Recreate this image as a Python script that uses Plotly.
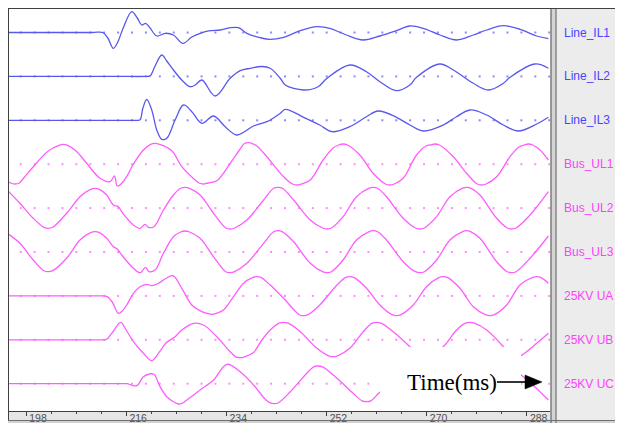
import plotly.graph_objects as go

# ---------------- data: time in ms, deviation from each channel's baseline ----------------
channel_names = ["Line_IL1", "Line_IL2", "Line_IL3", "Bus_UL1", "Bus_UL2", "Bus_UL3",
                 "25KV UA", "25KV UB", "25KV UC"]
tick_values = [198, 216, 234, 252, 270, 288]
tick_labels = ["198", "216", "234", "252", "270", "288"]

il1_t = [194.8, 200.0, 205.0, 210.0, 211.8, 212.7, 213.7, 214.5, 215.4, 217.0, 218.0, 218.8, 219.5, 220.3,
         221.5, 223.0, 224.5, 226.2, 227.8, 229.3, 231.1, 232.9, 234.7, 236.2, 237.7, 240.1, 241.9, 244.3,
         247.3, 250.3, 252.6, 255.6, 258.6, 261.6, 264.6, 267.0, 269.4, 272.4, 275.4, 278.4, 280.8, 283.8,
         286.8, 289.8, 291.9]
il1_v = [0, 0, 0, 0, 0, -5.5, -15.8, -9.5, 3.5, 20.8, 14.5, 7.5, 9.2, 4.5,
         -3.5, -0.8, -2.5, -10.8, -4.5, -0.8, 1.8, 2.5, 4.8, 4.8, -0.8, -5.2, -6.8, -4.8,
         1.8, 5.8, 4.2, -2.5, -7.5, -3.5, 1.8, 6.5, 4.2, -2.5, -7.5, -2.5, 2.5, 6.8,
         3.2, -3.5, -6.2]

il2_t = [194.8, 200.0, 205.0, 210.0, 215.0, 219.5, 220.3, 221.2, 222.4, 223.3, 224.5, 226.0, 227.5, 228.4,
         229.6, 232.0, 234.7, 236.5, 238.3, 240.4, 241.9, 243.7, 244.6, 247.9, 250.5, 252.1, 256.2, 259.2,
         261.6, 264.6, 267.0, 268.2, 272.4, 274.8, 278.4, 281.1, 283.8, 285.0, 289.5, 291.9]
il2_v = [0, 0, 0, 0, 0, 0, 0.5, 10.4, 21.4, 15.4, 6.4, -3.6, -10.3, -8.6,
         -3.6, -19.6, -1.9, 5.7, 8.1, 9.9, 8.1, -1.9, -8.6, -13.6, -10.3, -1.9, 11.4, 4.7,
         -5.3, -14.3, -8.6, -0.9, 12.4, 6.4, -6.9, -13.6, -6.9, -0.9, 12.4, 8.1]

il3_t = [194.8, 200.0, 205.0, 210.0, 215.0, 217.8, 218.5, 219.0, 219.7, 220.6, 221.5, 222.4, 223.3, 224.8,
         226.3, 227.8, 229.6, 231.7, 233.8, 235.9, 238.9, 241.3, 243.7, 244.6, 247.9, 250.8, 253.0, 256.2,
         259.2, 261.3, 264.6, 267.0, 269.4, 273.0, 275.4, 277.8, 280.8, 283.8, 286.5, 289.8, 291.9]
il3_v = [0, 0, 0, 0, 0, 0, 0.5, 12, 21, 10.3, -9.7, -19, -18, 0.3,
         15.3, 8.6, -3, 4.3, -6.4, -14.7, -5.7, -1.4, 7, 11, 3, -4.7, -11.4, -6.4,
         3.6, 9.3, 3, -4.7, -10.7, -4.7, 3.6, 10.3, 5.3, -4.7, -10.7, -3.7, 3]

ul1_t = [194.6, 195.2, 196.0, 196.8, 197.6, 199.3, 202.0, 203.9, 204.7, 205.5, 207.0, 208.9, 211.3, 213.1,
         213.9, 214.4, 215.2, 216.1, 217.2, 219.1, 220.4, 221.2, 222.0, 224.2, 226.0, 228.4, 229.1, 229.9,
         230.7, 232.3, 234.7, 236.5, 237.2, 238.0, 238.8, 239.7, 241.3, 244.3, 245.9, 246.7, 247.5, 249.1,
         251.4, 253.2, 254.2, 255.0, 255.8, 258.0, 260.4, 262.6, 263.4, 264.2, 265.8, 268.2, 269.9, 270.7,
         271.5, 272.3, 274.8, 277.2, 279.1, 279.9, 280.7, 282.6, 285.0, 286.6, 287.5, 288.3, 289.1, 290.4,
         291.9]
ul1_v = [-16.5, -18.8, -19.8, -18.8, -13.8, -2.5, 13.2, 18.9, 19.9, 18.9, 13.2, 0.9, -14.1, -17.5,
         -11.8, -21.8, -19.1, -12.5, -0.8, 14.2, 19.9, 20.9, 19.9, 13.5, -2.5, -15.8, -18.8, -19.8,
         -18.8, -16.5, 0.9, 15.2, 20.4, 21.5, 20.4, 17.2, 7.5, -12.5, -19.8, -20.8, -19.8, -15.8,
         4.2, 16.2, 19.2, 20.2, 19.2, 9.2, -9.1, -19.8, -20.8, -19.8, -14.1, 9.2, 18.2, 19.2,
         20.2, 19.2, 7.5, -9.1, -19.8, -20.8, -19.8, -12.5, 7.5, 17.2, 19.2, 20.2, 19.2, 14.2,
         4.2]

ul2_t = [194.6, 196.9, 199.3, 201.2, 202.0, 202.8, 205.3, 207.7, 209.6, 210.4, 211.2, 212.5, 213.7, 214.6,
         215.2, 217.3, 218.5, 219.4, 220.0, 221.0, 222.7, 224.5, 225.8, 226.6, 227.4, 229.3, 231.7, 233.9,
         234.7, 235.5, 237.7, 240.7, 242.5, 243.3, 244.1, 246.1, 249.1, 251.3, 252.1, 252.9, 255.0, 257.4,
         259.6, 260.4, 261.2, 262.8, 265.8, 268.0, 268.8, 269.6, 271.8, 274.2, 276.4, 277.2, 278.0, 279.6,
         282.6, 284.5, 285.3, 286.1, 288.6, 291.9]
ul2_v = [18.1, 4.8, -10.2, -19.2, -20.2, -19.2, -5.2, 11.4, 18.8, 19.8, 18.8, 13.1, 3.1, 1.4,
         -3.6, -16.9, -20.2, -16.2, -19.2, -18.6, -1.9, 13.1, 19.8, 20.8, 19.8, 13.1, -5.2, -19.9,
         -20.9, -19.9, -11.9, 8.1, 19.8, 20.8, 19.8, 8.1, -11.9, -19.9, -20.9, -19.9, -8.6, 11.4,
         19.8, 20.8, 19.8, 11.4, -10.2, -19.9, -20.9, -19.9, -8.6, 11.4, 19.8, 20.8, 19.8, 13.1,
         -10.2, -19.9, -20.9, -19.9, -6.9, 16.4]

ul3_t = [194.6, 196.9, 199.3, 201.2, 202.0, 202.8, 205.3, 207.7, 209.6, 210.4, 211.2, 212.5, 213.7, 214.4,
         215.2, 217.3, 218.5, 219.5, 220.1, 221.2, 222.7, 224.5, 225.8, 226.6, 227.4, 229.3, 231.7, 233.9,
         234.7, 235.5, 237.7, 240.7, 242.5, 243.3, 244.1, 246.1, 249.1, 251.3, 252.1, 252.9, 255.0, 257.4,
         259.6, 260.4, 261.2, 262.8, 265.8, 268.0, 268.8, 269.6, 271.8, 274.2, 276.4, 277.2, 278.0, 279.6,
         282.6, 284.5, 285.3, 286.1, 288.6, 291.9]
ul3_v = [18.7, 8.7, -8, -18.7, -19.7, -18.7, -6.3, 12, 19.3, 20.3, 19.3, 13.7, 5.3, 3,
         -3, -16.3, -20.7, -15.3, -19.7, -18, -1.3, 15.3, 20.0, 21, 20.0, 13.7, -4.7, -19.7,
         -20.7, -19.7, -11.3, 8.7, 20.2, 21.3, 20.2, 10.3, -11.3, -19.7, -20.7, -19.7, -8, 12,
         20.2, 21.3, 20.2, 12, -9.7, -19.7, -20.7, -19.7, -8, 12, 20.2, 21.3, 20.2, 13.7,
         -9.7, -19.7, -20.7, -19.7, -6.3, 16]

ua_t = [194.8, 200.0, 205.0, 210.0, 211.8, 212.5, 213.5, 214.6, 215.3, 216.1, 217.3, 218.5, 219.7, 220.6,
        221.8, 223.0, 224.4, 226.0, 227.8, 229.6, 230.6, 231.4, 232.2, 233.5, 235.3, 237.1, 238.7, 239.5,
        240.3, 241.9, 244.3, 247.1, 247.9, 248.7, 250.8, 253.9, 255.4, 256.2, 257.0, 259.2, 261.6, 263.8,
        264.6, 265.4, 267.6, 270.0, 272.2, 273.0, 273.8, 276.0, 278.4, 280.6, 281.4, 282.2, 284.4, 286.8,
        289.0, 289.8, 290.6, 291.9]
ua_v = [0, 0, 0, 0, 0, -0.5, -6.1, -17.4, -15.1, -9.1, 2.6, 9.2, 11.6, 10.2,
        12.6, 16.9, 20.2, 7.6, -9.1, -15.8, -17.5, -18.4, -17.5, -14.1, -0.8, 12.6, 18.2, 19.2,
        18.2, 10.9, -2.4, -18.8, -19.8, -18.8, -9.1, 10.9, 18.2, 19.2, 18.2, 7.6, -9.1, -18.8,
        -19.8, -18.8, -9.1, 9.2, 18.2, 19.2, 18.2, 7.6, -10.8, -18.8, -19.8, -18.8, -9.1, 10.9,
        18.2, 19.2, 18.2, 12.6]

ub_t = [194.8, 200.0, 205.0, 210.0, 211.8, 212.5, 213.6, 215.0, 216.0, 217.3, 219.1, 220.6, 221.8, 223.3,
        224.8, 226.0, 228.1, 229.9, 232.3, 234.7, 235.7, 236.5, 237.3, 238.9, 240.4, 241.9, 243.5, 244.3,
        245.1, 247.3, 250.3, 252.4, 253.2, 254.0, 256.2, 258.6, 260.2, 261.0, 261.8, 264.0, 267.0, 268.6,
        269.4, 270.2, 273.0, 275.4, 277.0, 277.8, 278.6, 280.8, 283.8, 285.1, 285.9, 286.8, 289.8, 291.9]
ub_v = [0, 0, 0, 0, 0, 0.5, 7.8, 17.5, 9.8, -1.9, -13.5, -20.9, -13.5, -2.5,
        3.1, 9.8, 16.5, 14.8, 3.1, -11.9, -17.0, -17.9, -17.0, -12.7, -0.2, 9.8, 16.6, 17.5,
        16.6, 8.1, -8.5, -16.0, -16.9, -16.0, -8.5, 8.1, 16.6, 17.5, 16.6, 8.1, -6.9, -16.3,
        -17.2, -16.3, -6.9, 9.8, 16.6, 17.5, 16.6, 9.8, -6.9, -16.3, -17.2, -16.3, -3.5, 6.5]

uc_t = [194.8, 200.0, 205.0, 210.0, 215.0, 216.1, 217.9, 219.1, 220.2, 221.0, 222.1, 223.3, 224.5, 225.4,
        226.1, 226.9, 229.3, 231.7, 234.1, 236.5, 238.9, 241.0, 241.8, 242.6, 243.4, 245.5, 249.7, 250.5,
        251.3, 253.9, 256.8, 258.4, 259.2, 260.0, 261.6, 267.4, 275.7, 283.9, 284.7, 287.4, 291.9]
uc_v = [0, 0, 0, 0, 0, 0, -2, 7, 9.7, 9.4, -3, -13, -18, -20.3,
        -19.4, -16.3, -6.3, 3.7, 19.4, 12, -1.3, -15.5, -19.0, -20.0, -19.0, -8.0, 16.8, 17.7,
        16.8, 5.4, -9.6, -17.1, -18, -17.1, -8.6, 17.7, -20.3, 17.7, 16.8, 7, -16.3]

series = [(il1_t, il1_v), (il2_t, il2_v), (il3_t, il3_v),
          (ul1_t, ul1_v), (ul2_t, ul2_v), (ul3_t, ul3_v),
          (ua_t, ua_v), (ub_t, ub_v), (uc_t, uc_v)]

# baseline reference dots every 2.5 ms
DOT_START, DOT_STEP, DOT_COUNT = 197.05, 2.5, 39
dot_t = [DOT_START + DOT_STEP * k for k in range(DOT_COUNT)]

# ---------------- styling / layout ----------------
BLUE, PINK = "#5858ee", "#ff5cff"
LBL_BLUE, LBL_PINK = "#4646ff", "#ff40ff"
DOT_BLUE, DOT_PINK = "#8a8aff", "#ff8cff"

BODY = 8                      # browser default body margin
WIN_W, WIN_H = 623, 423
W, H = WIN_W - BODY, WIN_H - BODY
PL, PR, PT, PB = 8, 550, 9, 411   # plot box in window pixels
SPACING = 43.9
Y_TOP = 23.5
Y_BOT = Y_TOP - (PB - PT)
T_MIN, T_MAX = 194.76, 292.19


def px(x):
    return (x - PL) / (PR - PL)


def py(y):
    return (PB - y) / (PB - PT)


fig = go.Figure()

for i, name in enumerate(channel_names):
    off = -i * SPACING
    fig.add_trace(go.Scatter(
        x=dot_t, y=[off] * len(dot_t), mode="markers",
        marker=dict(symbol="square", size=2, color=DOT_BLUE if i < 3 else DOT_PINK, line_width=0),
        hoverinfo="skip", showlegend=False))

for i, (t, v) in enumerate(series):
    off = -i * SPACING
    fig.add_trace(go.Scatter(
        x=t, y=[off + val for val in v], mode="lines", name=channel_names[i],
        line=dict(color=BLUE if i < 3 else PINK, width=1.3, shape="spline", smoothing=1.0),
        showlegend=False))


def rect(x0, y0, x1, y1, fill, layer="below"):
    return dict(type="rect", xref="paper", yref="paper", x0=px(x0), x1=px(x1), y0=py(y0), y1=py(y1),
                fillcolor=fill, line=dict(width=0), layer=layer)


def hline(x0, x1, y, color, width=1, layer="above"):
    return dict(type="line", xref="paper", yref="paper", x0=px(x0), x1=px(x1), y0=py(y), y1=py(y),
                line=dict(color=color, width=width), layer=layer)


def vline(x, y0, y1, color, width=1, layer="above"):
    return dict(type="line", xref="paper", yref="paper", x0=px(x), x1=px(x), y0=py(y0), y1=py(y1),
                line=dict(color=color, width=width), layer=layer)


shapes = [
    rect(556.5, 8.5, 623, 423, "#ececec"),
    rect(8, 411, 550.5, 420, "#e6e6e6"),
    rect(8, 421, 623, 423, "#d2d2d2"),
    rect(550.5, 8.5, 556.5, 423, "#d4d4d4"),
    vline(551, 8.5, 423, "#505050"),
    vline(556, 8.5, 423, "#606060"),
    hline(8, 623, 8.5, "#404040"),
    vline(8.5, 8.5, 421, "#404040"),
    hline(8, 623, 420.5, "#707070"),
    # white label box over the traces
    rect(380, 347, 521, 410.5, "white", layer="above"),
    # arrow
    hline(497, 527, 382, "black", width=1.6),
    dict(type="path", xref="paper", yref="paper",
         path=f"M {px(525)},{py(375)} L {px(542)},{py(382)} L {px(525)},{py(389)} Z",
         fillcolor="black", line=dict(color="black", width=0.5), layer="above"),
]

annotations = []
for i, name in enumerate(channel_names):
    annotations.append(dict(
        x=px(562), y=-i * SPACING, xref="paper", yref="y", text=name, showarrow=False,
        xanchor="left", yanchor="middle",
        font=dict(family="Liberation Sans, Arial, sans-serif", size=12,
                  color=LBL_BLUE if i < 3 else LBL_PINK)))
annotations.append(dict(
    x=px(405), y=py(382), xref="paper", yref="paper", text="Time(ms)", showarrow=False,
    xanchor="left", yanchor="middle",
    font=dict(family="Liberation Serif, Times New Roman, serif", size=23, color="black")))

fig.update_layout(
    width=W, height=H,
    margin=dict(l=PL - BODY, r=WIN_W - PR, t=PT - BODY, b=WIN_H - PB, pad=0),
    paper_bgcolor="white", plot_bgcolor="white",
    showlegend=False,
    shapes=shapes, annotations=annotations,
    xaxis=dict(range=[T_MIN, T_MAX], tickmode="array", tickvals=tick_values, ticktext=tick_labels,
               ticks="outside", ticklen=4, tickwidth=1, tickcolor="#404040",
               showline=True, linecolor="#404040", linewidth=1, mirror=False,
               showgrid=False, zeroline=False, fixedrange=True,
               ticklabelshift=12, ticklabelstandoff=-7,
               tickfont=dict(family="Liberation Sans, Arial, sans-serif", size=10.5, color="#505050"),
               minor=dict(tickmode="linear", tick0=198, dtick=4.5, ticks="outside", ticklen=2,
                          tickcolor="#404040", showgrid=False)),
    yaxis=dict(range=[Y_BOT, Y_TOP], visible=False, fixedrange=True),
)

fig.write_html("out.html")
